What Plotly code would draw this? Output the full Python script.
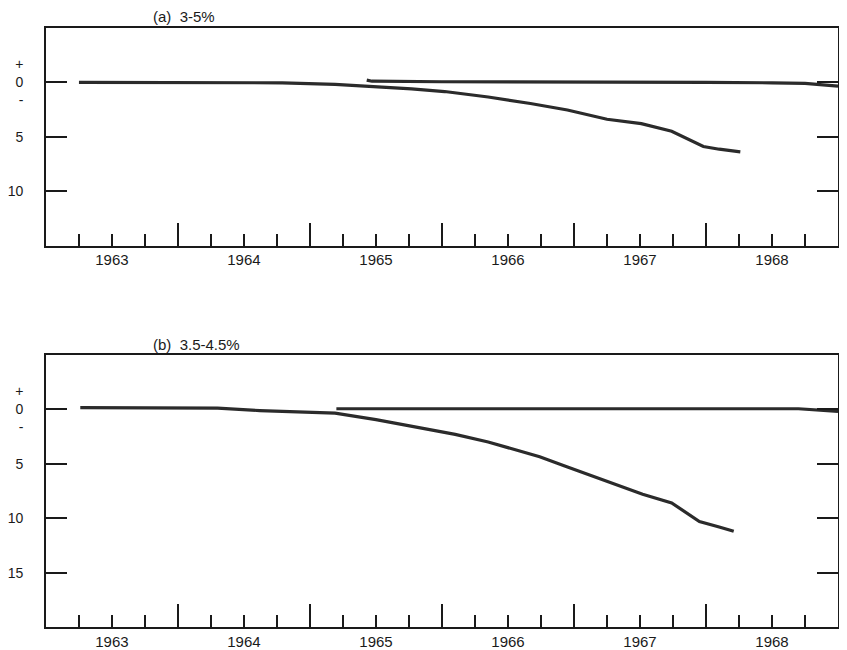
import plotly.graph_objects as go

# ---------------- data (decimal years, % deviation) ----------------
a_main_t = [1963.25, 1963.75, 1964.0, 1964.5, 1964.79, 1965.19, 1965.5, 1965.77,
            1966.02, 1966.35, 1966.67, 1966.95, 1967.25, 1967.51, 1967.74,
            1967.98, 1968.10, 1968.26]
a_main_v = [0.0, 0.0, 0.0, 0.0, -0.05, -0.2, -0.4, -0.6,
            -0.85, -1.35, -1.95, -2.55, -3.4, -3.8, -4.5,
            -5.9, -6.15, -6.4]
a_new_t = [1965.43, 1965.47, 1966.0, 1966.5, 1967.0, 1967.5, 1968.0, 1968.5, 1968.75, 1969.0]
a_new_v = [0.2, 0.1, 0.05, 0.05, 0.03, 0.03, 0.0, -0.05, -0.1, -0.35]

b_main_t = [1963.26, 1963.5, 1964.0, 1964.3, 1964.62, 1964.94, 1965.19, 1965.5,
            1965.77, 1966.1, 1966.35, 1966.74, 1966.93, 1967.22, 1967.52,
            1967.74, 1967.95, 1968.10, 1968.21]
b_main_v = [0.15, 0.15, 0.15, 0.1, -0.12, -0.25, -0.36, -0.95,
            -1.57, -2.3, -3.0, -4.36, -5.2, -6.5, -7.8,
            -8.6, -10.3, -10.8, -11.2]
b_new_t = [1965.2, 1965.5, 1966.0, 1967.0, 1968.0, 1968.7, 1969.0]
b_new_v = [0.05, 0.05, 0.05, 0.05, 0.05, 0.05, -0.2]

year_ticks = [1963.5, 1964.5, 1965.5, 1966.5, 1967.5, 1968.5]
year_labels = ["1963", "1964", "1965", "1966", "1967", "1968"]
year_bounds = [1964, 1965, 1966, 1967, 1968]

a_yvals = [0, -5, -10]
a_ytext = ["+<br>0<br>-", "5", "10"]
b_yvals = [0, -5, -10, -15]
b_ytext = ["+<br>0<br>-", "5", "10", "15"]

panel_titles = ["(a)  3-5%", "(b)  3.5-4.5%"]

# ---------------- figure ----------------
LINE = dict(color="#2b2b2b", width=3.2)
INK = "#1a1a1a"
FONT = "Liberation Sans, Arial, sans-serif"

W, H = 839, 642  # page body has an 8px margin
OFF = 8


def px_x(v):
    return (v - OFF) / W


def px_y(v):
    return 1 - (v - OFF) / H


fig = go.Figure()
fig.add_trace(go.Scatter(x=a_main_t, y=a_main_v, mode="lines", line=LINE, xaxis="x", yaxis="y"))
fig.add_trace(go.Scatter(x=a_new_t, y=a_new_v, mode="lines", line=LINE, xaxis="x", yaxis="y"))
fig.add_trace(go.Scatter(x=b_main_t, y=b_main_v, mode="lines", line=LINE, xaxis="x2", yaxis="y2"))
fig.add_trace(go.Scatter(x=b_new_t, y=b_new_v, mode="lines", line=LINE, xaxis="x2", yaxis="y2"))
# carriers for the long year-boundary tick axes
fig.add_trace(go.Scatter(x=[], y=[], xaxis="x3", yaxis="y", showlegend=False))
fig.add_trace(go.Scatter(x=[], y=[], xaxis="x4", yaxis="y2", showlegend=False))

xdom = [px_x(45), px_x(838)]
top_dom = [px_y(247), px_y(28)]
bot_dom = [px_y(631), px_y(357)]


def xaxis_main(anchor):
    return dict(
        domain=xdom, anchor=anchor, range=[1963, 1969],
        tickmode="array", tickvals=year_ticks, ticktext=year_labels,
        ticks="inside", ticklen=12, tickwidth=1.5, tickcolor=INK,
        minor=dict(tickmode="linear", tick0=1963, dtick=0.25, ticks="inside",
                   ticklen=12, tickwidth=1.5, tickcolor=INK),
        showline=True, linecolor=INK, linewidth=1.5, mirror=True,
        showgrid=False, zeroline=False, ticklabelstandoff=0,
        tickfont=dict(family=FONT, size=15, color=INK),
    )


def xaxis_long(over, anchor):
    return dict(
        overlaying=over, anchor=anchor, range=[1963, 1969],
        tickmode="array", tickvals=year_bounds, showticklabels=False,
        ticks="inside", ticklen=23, tickwidth=1.5, tickcolor=INK,
        showline=False, showgrid=False, zeroline=False,
    )


def yaxis(dom, anchor, rng, vals, text):
    return dict(
        domain=dom, anchor=anchor, range=rng,
        tickmode="array", tickvals=vals, ticktext=text,
        ticks="inside", ticklen=21, tickwidth=1.5, tickcolor=INK,
        showline=True, linecolor=INK, linewidth=1.5, mirror="ticks",
        showgrid=False, zeroline=False, ticklabelstandoff=18,
        tickfont=dict(family=FONT, size=14, color=INK),
    )


fig.update_layout(
    width=W, height=H,
    margin=dict(l=0, r=0, t=0, b=0),
    paper_bgcolor="white", plot_bgcolor="white",
    showlegend=False,
    xaxis=xaxis_main("y"),
    xaxis2=xaxis_main("y2"),
    xaxis3=xaxis_long("x", "y"),
    xaxis4=xaxis_long("x2", "y2"),
    yaxis=yaxis(top_dom, "x", [-15, 5], a_yvals, a_ytext),
    yaxis2=yaxis(bot_dom, "x2", [-20, 5], b_yvals, b_ytext),
    annotations=[
        dict(text=panel_titles[0], xref="paper", yref="paper", x=px_x(183), y=px_y(17),
             xanchor="center", yanchor="middle",
             showarrow=False, font=dict(family=FONT, size=15, color=INK)),
        dict(text=panel_titles[1], xref="paper", yref="paper", x=px_x(196), y=px_y(347),
             xanchor="center", yanchor="middle",
             showarrow=False, font=dict(family=FONT, size=15, color=INK)),
    ],
)

fig.write_html("out.html")
